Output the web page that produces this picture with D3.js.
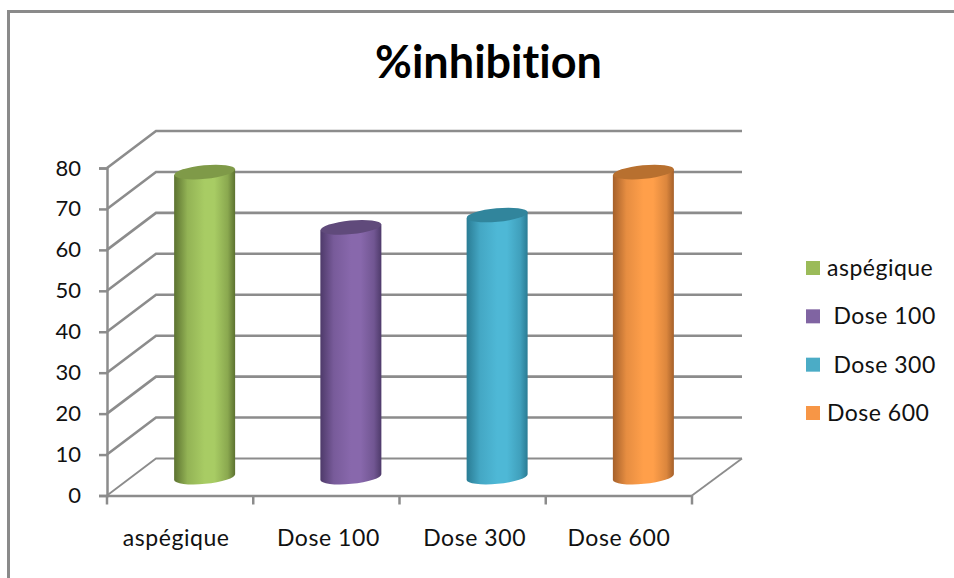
<!DOCTYPE html>
<html>
<head>
<meta charset="utf-8">
<script src="https://cdn.jsdelivr.net/npm/d3@7"></script>
<style>
  html, body { margin: 0; padding: 0; background: #fff; }
  svg { display: block; }
  text { font-family: Lato, "Open Sans", sans-serif; fill: #111; font-variant-ligatures: none; }
</style>
</head>
<body>
<svg id="chart" width="954" height="578"></svg>
<script>
const titleText = "%inhibition";
const categories = ["aspégique", "Dose 100", "Dose 300", "Dose 600"];
const legendLabels = ["aspégique", "\u00A0Dose 100", "\u00A0Dose 300", "Dose 600"];
const inhibition = [74.5, 61, 64, 74.5];
const yTicks = [0, 10, 20, 30, 40, 50, 60, 70, 80];
const swatchColors = ["#9BBB59", "#8064A2", "#4BACC6", "#F79646"];
const midColors = ["#A8CC64", "#8868AC", "#4EB8D6", "#FF9F4A"];
const edgeColors = ["#5C7230", "#4E3A6A", "#2A7C94", "#A5602A"];
const capColors = ["#7F9A48", "#604A7B", "#31859C", "#B8702F"];

const svg = d3.select("#chart");
const gridColor = "#8c8c8c";

// Oblique projection: the plot floor recedes up and to the right.
const depthX = 49, depthY = -37;
const x = d3.scaleBand().domain(categories).range([107, 692]).padding(0);
const y = d3.scaleLinear().domain([0, 80]).range([495.5, 168]);

// Outer frame, showing only its top and left edges.
svg.append("path")
  .attr("d", "M954,11.5H8.5V578")
  .attr("fill", "none").attr("stroke", "#8a8a8a").attr("stroke-width", 3);

// Title
svg.append("text").attr("x", 488.5).attr("y", 78)
  .attr("text-anchor", "middle").attr("font-size", 45).attr("font-weight", 700)
  .style("fill", "#000").text(titleText);

// Gridlines running up the side wall and across the back wall.
svg.append("g").selectAll("path").data(yTicks).join("path")
  .attr("d", d => `M${x.range()[0]},${y(d)}l${depthX},${depthY}H${x.range()[1] + depthX + 1}`)
  .attr("fill", "none").attr("stroke", gridColor)
  .attr("stroke-width", d => d === 0 ? 1.8 : 2.6);

// Right edge of the floor.
svg.append("line")
  .attr("x1", x.range()[1]).attr("y1", y(0))
  .attr("x2", x.range()[1] + depthX + 1).attr("y2", y(0) + depthY)
  .attr("stroke", gridColor).attr("stroke-width", 1.8);

// Value axis
const yAxis = svg.append("g").attr("transform", `translate(${x.range()[0]},0)`)
  .call(d3.axisLeft(y).tickValues(yTicks).tickSize(8).tickPadding(18));
// Category axis, with ticks on the band boundaries and labels centred in the bands.
const xAxis = svg.append("g").attr("transform", `translate(0,${y(0)})`)
  .call(d3.axisBottom(x).tickSize(0).tickPadding(32));
xAxis.append("g").selectAll("line").data(x.domain().map(d => x(d)).concat(x.range()[1]))
  .join("line").attr("x1", d => d).attr("x2", d => d).attr("y1", 0).attr("y2", 9)
  .attr("stroke", gridColor).attr("stroke-width", 2.5);

[yAxis, xAxis].forEach(axis => {
  axis.select(".domain").attr("stroke", gridColor).attr("stroke-width", 2.5);
  axis.selectAll(".tick line").attr("stroke", gridColor).attr("stroke-width", 2.5);
  axis.selectAll("text").attr("font-size", 22).style("fill", "#111")
    .style("font-family", 'Lato, "Open Sans", sans-serif');
});
xAxis.selectAll(".tick text").attr("font-size", 23).attr("dy", "0.82em").style("letter-spacing", "0.55px");
xAxis.selectAll(".tick").filter((d, i) => i === 0).select("text").attr("x", -4);
xAxis.selectAll(".tick").filter((d, i) => i === 1).select("text").attr("x", 2);
xAxis.selectAll(".tick").filter((d, i) => i === 2).select("text").attr("x", 2);
xAxis.selectAll(".tick").filter((d, i) => i === 3).select("text").attr("x", 0);

// Shared horizontal shading for each cylinder.
const defs = svg.append("defs");
categories.forEach((c, i) => {
  const g = defs.append("linearGradient").attr("id", `side${i}`)
    .attr("x1", 0).attr("x2", 1).attr("y1", 0).attr("y2", 0);
  [[0, edgeColors[i]], [0.22, d3.interpolateRgb(edgeColors[i], midColors[i])(0.72)],
   [0.5, midColors[i]], [0.66, midColors[i]],
   [0.88, d3.interpolateRgb(edgeColors[i], midColors[i])(0.6)], [1, edgeColors[i]]]
    .forEach(([o, col]) => g.append("stop").attr("offset", o).attr("stop-color", col));
});

// Cylinders stand at mid-depth of the floor.
const radiusX = 30.5, radiusY = 6.8, tilt = -5.5;
const lean = radiusX * Math.sin(-tilt * Math.PI / 180);
const bars = svg.append("g").selectAll("g").data(inhibition).join("g");
const cx = (d, i) => x(categories[i]) + x.bandwidth() / 2 + depthX / 2;
const baseY = y(0) + depthY / 2;
const topY = d => y(d) + depthY / 2;

bars.append("path")
  .attr("d", (d, i) => {
    const c = cx(d, i);
    return `M${c - radiusX},${topY(d) + lean}` +
      `L${c - radiusX},${baseY + lean}` +
      `A${radiusX},${radiusY} ${tilt} 0 0 ${c + radiusX},${baseY - lean}` +
      `L${c + radiusX},${topY(d) - lean}Z`;
  })
  .attr("fill", (d, i) => `url(#side${i})`);

bars.append("ellipse")
  .attr("rx", radiusX).attr("ry", radiusY)
  .attr("transform", (d, i) => `translate(${cx(d, i)},${topY(d)}) rotate(${tilt})`)
  .attr("fill", (d, i) => capColors[i]);

// Legend
const legendTops = d3.scalePoint().domain(categories).range([261, 406]);
const legend = svg.append("g").selectAll("g").data(categories).join("g")
  .attr("transform", d => `translate(806,${legendTops(d)})`);
legend.append("rect").attr("width", 14).attr("height", 14)
  .attr("fill", (d, i) => swatchColors[i]);
legend.append("text").attr("x", 21).attr("y", 15).attr("font-size", 23)
  .style("letter-spacing", "0.5px").text((d, i) => legendLabels[i]);
</script>
</body>
</html>
